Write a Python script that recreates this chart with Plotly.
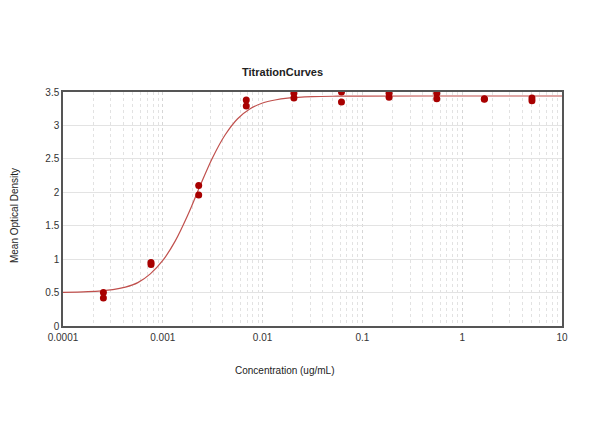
import plotly.graph_objects as go

# Measured data (duplicate wells per concentration)
conc = [0.000254, 0.000762, 0.00229, 0.00686, 0.0206, 0.0617, 0.185, 0.556, 1.667, 5.0]
od_rep1 = [0.50, 0.95, 2.10, 3.38, 3.48, 3.50, 3.48, 3.48, 3.40, 3.41]
od_rep2 = [0.42, 0.92, 1.96, 3.29, 3.41, 3.35, 3.42, 3.40, 3.39, 3.37]

# Fitted curve
curve_x = [0.0001, 0.000178, 0.000316, 0.000422, 0.000562, 0.00075, 0.001, 0.00133, 0.00178,
           0.00237, 0.00316, 0.00422, 0.00562, 0.0075, 0.01, 0.0133, 0.0178, 0.0316, 0.0562,
           0.1, 1.0, 10.0]
curve_y = [0.504, 0.513, 0.545, 0.582, 0.649, 0.78, 0.98, 1.27, 1.66,
           2.10, 2.52, 2.86, 3.10, 3.25, 3.335, 3.38, 3.407, 3.430, 3.437,
           3.439, 3.44, 3.44]

xs = conc + conc
ys = od_rep1 + od_rep2

fig = go.Figure()
fig.add_trace(go.Scatter(x=curve_x, y=curve_y, mode="lines",
                         line=dict(color="#c0504d", width=1.2, shape="spline"),
                         hoverinfo="skip", showlegend=False))
fig.add_trace(go.Scatter(x=xs, y=ys, mode="markers",
                         marker=dict(color="#a80000", size=7),
                         showlegend=False))

font = "Liberation Sans, Arial, sans-serif"
# page has an 8px body margin, so the margins are offset accordingly
L, T, R, B = 55, 84, 46, 129
fig.update_layout(
    width=600, height=447,
    margin=dict(l=L, r=R, t=T, b=B),
    paper_bgcolor="white", plot_bgcolor="white",
    font=dict(family=font, size=10, color="#333333"),
    showlegend=False,
)
fig.update_xaxes(
    type="log", range=[-4, 1],
    tickvals=[0.0001, 0.001, 0.01, 0.1, 1, 10],
    ticktext=["0.0001", "0.001", "0.01", "0.1", "1", "10"],
    showgrid=True, gridcolor="#d6d6d6", gridwidth=1, griddash="dot",
    minor=dict(showgrid=True, gridcolor="#e2e2e2", griddash="dot", dtick="D1", ticklen=0),
    showline=True, linecolor="#555555", linewidth=1.5, mirror=True,
    ticks="", zeroline=False, ticklabelstandoff=1,
)
fig.update_yaxes(
    range=[0, 3.5],
    tickvals=[0, 0.5, 1, 1.5, 2, 2.5, 3, 3.5],
    ticktext=["0", "0.5", "1", "1.5", "2", "2.5", "3", "3.5"],
    showgrid=True, gridcolor="#e3e3e3", gridwidth=1,
    showline=True, linecolor="#555555", linewidth=1.5, mirror=True,
    ticks="", zeroline=False,
)
pw = 600 - L - R
fig.add_annotation(text="<b>TitrationCurves</b>", xref="paper", yref="paper",
                   x=(282 - 8 - L) / pw, y=1, yshift=12, showarrow=False,
                   font=dict(family=font, size=11, color="#222222"), xanchor="center", yanchor="bottom")
fig.add_annotation(text="Concentration (ug/mL)", xref="paper", yref="paper",
                   x=(285 - 8 - L) / pw, y=0, yshift=-37, showarrow=False,
                   font=dict(family=font, size=10, color="#222222"), xanchor="center", yanchor="top")
fig.add_annotation(text="Mean Optical Density", xref="paper", yref="paper",
                   x=0, xshift=-49, y=0.47, showarrow=False, textangle=-90,
                   font=dict(family=font, size=10, color="#222222"), xanchor="center", yanchor="middle")

fig.write_html("out.html")
